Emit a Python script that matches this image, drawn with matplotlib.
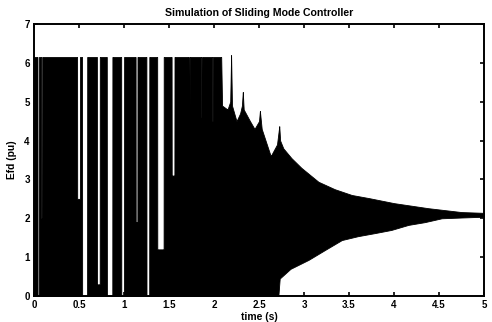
import numpy as np
import matplotlib
matplotlib.use("Agg")
import matplotlib.pyplot as plt

# ---- data (time in s, Efd in pu) ----
# upper envelope of the chattering field voltage
upper_t = [0.0, 2.08, 2.09, 2.15, 2.180, 2.19, 2.20, 2.25, 2.29, 2.31, 2.32, 2.33,
           2.40, 2.45, 2.50, 2.51, 2.53, 2.63, 2.70, 2.725, 2.735, 2.77, 2.86, 2.97,
           3.16, 3.34, 3.53, 3.72, 4.00, 4.38, 4.75, 5.00]
upper_v = [6.15, 6.15, 4.9, 4.8, 5.0, 6.2, 4.9, 4.5, 4.7, 4.9, 5.25, 4.8,
           4.5, 4.3, 4.5, 4.76, 4.3, 3.6, 3.9, 4.37, 4.0, 3.8, 3.55, 3.3,
           2.94, 2.75, 2.6, 2.52, 2.39, 2.26, 2.16, 2.14]
# lower envelope
lower_t = [0.0, 2.715, 2.73, 2.85, 3.05, 3.23, 3.42, 3.60, 3.79, 3.97, 4.16,
           4.34, 4.53, 4.75, 5.00]
lower_v = [0.0, 0.0, 0.45, 0.70, 0.93, 1.18, 1.44, 1.54, 1.62, 1.70, 1.83,
           1.90, 2.00, 2.02, 2.04]
# intervals where the controller output stays low (start, end, max value reached)
hold_start = [0.040, 0.080, 0.480, 0.535, 0.700, 0.810, 0.970, 1.130, 1.250, 1.370, 1.530,
              1.720, 1.860, 1.980]
hold_end   = [0.055, 0.090, 0.510, 0.590, 0.730, 0.870, 1.000, 1.150, 1.280, 1.440, 1.560,
              1.728, 1.868, 1.988]
hold_max   = [0.0,   2.0,   2.5,   0.0,   0.3,   0.0,   0.0,   1.9,   0.0,   1.2,   3.1,
              4.4,   4.6,   4.5]

x_ticks = [0, 0.5, 1, 1.5, 2, 2.5, 3, 3.5, 4, 4.5, 5]
x_tick_labels = ["0", "0.5", "1", "1.5", "2", "2.5", "3", "3.5", "4", "4.5", "5"]
y_ticks = [0, 1, 2, 3, 4, 5, 6, 7]

# ---- figure ----
plt.rcParams['font.family'] = ['Liberation Sans', 'DejaVu Sans']
plt.rcParams['font.weight'] = 'bold'
fig = plt.figure(figsize=(4.92, 3.22), dpi=100)
ax = fig.add_axes([34/492, 26/322, 450/492, 272/322])

t = np.linspace(0, 5, 4001)
up = np.interp(t, upper_t, upper_v)
lo = np.interp(t, lower_t, lower_v)
for s, e, m in zip(hold_start, hold_end, hold_max):
    mask = (t >= s) & (t <= e)
    up[mask] = np.maximum(lo[mask], m)

ax.fill_between(t, lo, up, color='black', linewidth=0.6, edgecolor='black')

ax.set_xlim(0, 5)
ax.set_ylim(0, 7)
ax.set_xticks(x_ticks)
ax.set_xticklabels(x_tick_labels)
ax.set_yticks(y_ticks)
ax.tick_params(direction='in', top=True, right=True, length=3, width=1.2,
               labelsize=7, pad=3)
for lab in ax.get_xticklabels() + ax.get_yticklabels():
    lab.set_fontweight('bold')
for sp in ax.spines.values():
    sp.set_linewidth(1.4)

ax.set_title("Simulation of Sliding Mode Controller", fontsize=7.6, fontweight='bold', pad=6)
ax.set_xlabel("time (s)", fontsize=7.4, fontweight='bold', labelpad=1)
ax.set_ylabel("Efd (pu)", fontsize=7.4, fontweight='bold', labelpad=5)

fig.savefig("out.png", dpi=100)
